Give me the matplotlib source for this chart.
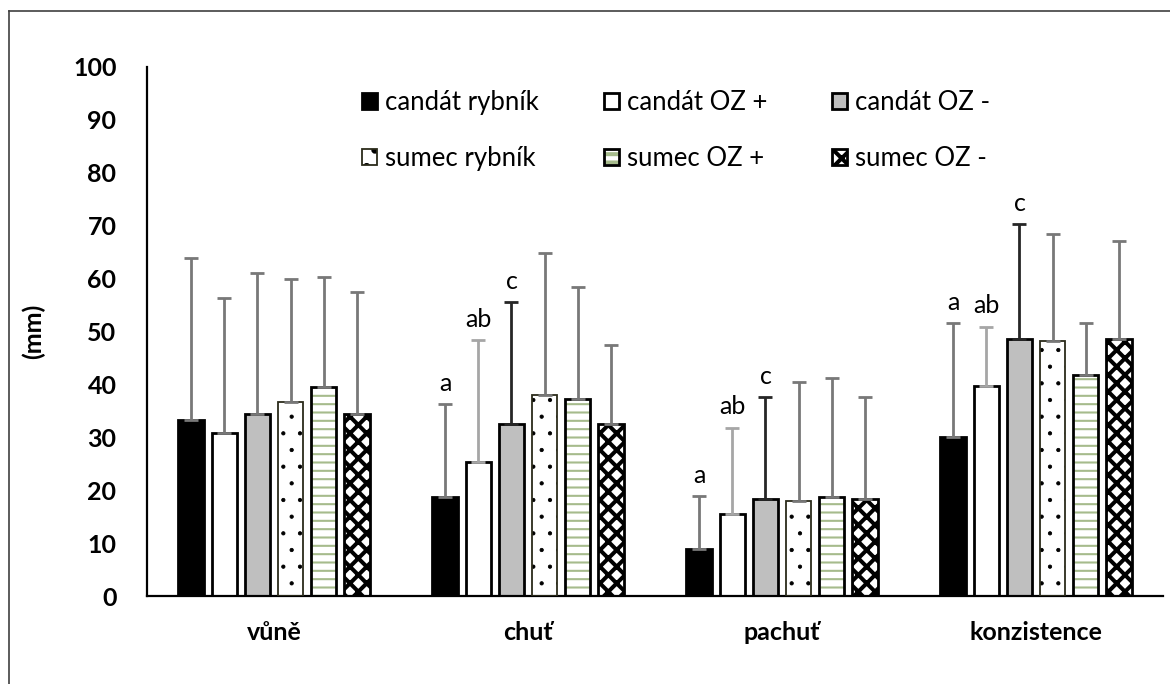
import numpy as np
import matplotlib
matplotlib.use('Agg')
import matplotlib.pyplot as plt
from matplotlib.lines import Line2D

plt.rcParams['font.family'] = ['Lato', 'DejaVu Sans']

# data
kategorie = ['vůně', 'chuť', 'pachuť', 'konzistence']
serie = ['candát rybník', 'candát OZ +', 'candát OZ -',
         'sumec rybník', 'sumec OZ +', 'sumec OZ -']

candat_rybnik = [33.3, 18.7, 8.9, 30.1]
candat_oz_plus = [30.8, 25.3, 15.5, 39.7]
candat_oz_minus = [34.4, 32.5, 18.3, 48.6]
sumec_rybnik = [36.7, 38.0, 18.0, 48.2]
sumec_oz_plus = [39.5, 37.2, 18.7, 41.8]
sumec_oz_minus = [34.4, 32.5, 18.3, 48.6]

sd_candat_rybnik = [30.6, 17.6, 10.0, 21.5]
sd_candat_oz_plus = [25.5, 23.1, 16.3, 11.2]
sd_candat_oz_minus = [26.7, 23.1, 19.3, 21.7]
sd_sumec_rybnik = [23.2, 26.8, 22.5, 20.2]
sd_sumec_oz_plus = [20.8, 21.2, 22.6, 9.8]
sd_sumec_oz_minus = [23.1, 14.9, 19.3, 18.5]

# letters above the first three bars (chuť, pachuť, konzistence)
pismena = ['a', 'ab', 'c']

hodnoty = [candat_rybnik, candat_oz_plus, candat_oz_minus,
           sumec_rybnik, sumec_oz_plus, sumec_oz_minus]
sd = [sd_candat_rybnik, sd_candat_oz_plus, sd_candat_oz_minus,
      sd_sumec_rybnik, sd_sumec_oz_plus, sd_sumec_oz_minus]

# styl: (barva výplně, šrafování, barva šrafy, tloušťka šrafy, barva okraje, tloušťka okraje)
styly = [
    ('black', '', 'black', 1.0, 'black', 2.0),
    ('white', '', 'white', 1.0, 'black', 2.0),
    ('#bfbfbf', '', '#bfbfbf', 1.0, 'black', 2.0),
    ('white', '.', 'black', 0.6, '#2b2b1a', 1.3),
    ('white', '--', '#a6bb8c', 1.5, 'black', 2.0),
    ('white', 'xx', 'black', 2.9, 'black', 2.0),
]
# barvy chybových úseček po kategoriích
sede = '#787878'
err_barvy = [
    [sede, sede, sede, sede],
    [sede, '#a6a6a6', '#a6a6a6', '#a6a6a6'],
    [sede, '#262626', '#262626', '#262626'],
    [sede, sede, sede, sede],
    [sede, sede, sede, sede],
    [sede, sede, sede, sede],
]

fig = plt.figure(figsize=(11.7, 6.84), dpi=100)
ax = fig.add_axes([147/1170, 1 - 596/684, (1163 - 147)/1170, (596 - 67)/684])

x = np.arange(len(kategorie))
krok = 0.13
sirka = 0.102
handles = []
for i, (vals, chyby) in enumerate(zip(hodnoty, sd)):
    face, hatch, hcol, hlw, ecol, lw = styly[i]
    pos = x + (i - 2.5) * krok
    plt.rcParams['hatch.linewidth'] = hlw
    b1 = ax.bar(pos, vals, sirka, color=face, hatch=hatch, edgecolor=hcol,
                linewidth=0, zorder=2)
    b2 = ax.bar(pos, vals, sirka, fill=False, edgecolor=ecol, linewidth=lw,
                zorder=3)
    handles.append((b1[0], b2[0]))
    for j in range(len(kategorie)):
        ax.errorbar(pos[j], vals[j], yerr=[[0], [chyby[j]]], fmt='none',
                    ecolor=err_barvy[i][j], elinewidth=2, capsize=5,
                    capthick=2, zorder=4)
        if i < 3 and j > 0:
            ax.annotate(pismena[i], (pos[j], vals[j] + chyby[j]),
                        xytext=(0, 15), textcoords='offset points',
                        ha='center', va='center', fontsize=18)

ax.set_xlim(-0.5, 3.5)
ax.set_ylim(0, 100)
ax.set_yticks(range(0, 101, 10))
ax.set_xticks(x)
ax.set_xticklabels(kategorie, fontsize=18, fontweight='bold')
ax.tick_params(axis='y', labelsize=18, length=0, pad=22)
ax.tick_params(axis='x', length=0, pad=18)
for lab in ax.get_yticklabels():
    lab.set_fontweight('bold')
ax.set_ylabel('(mm)', fontsize=18, fontweight='bold', labelpad=20)
ax.spines['top'].set_visible(False)
ax.spines['right'].set_visible(False)
ax.spines['left'].set_linewidth(1.6)
ax.spines['bottom'].set_linewidth(1.6)

# legenda: řádky candát / sumec
poradi = [0, 3, 1, 4, 2, 5]
leg = ax.legend([handles[k] for k in poradi], [serie[k] for k in poradi],
                ncol=3, frameon=False, fontsize=18.5,
                loc='upper left', bbox_to_anchor=(0.2116, 0.956),
                borderpad=0, borderaxespad=0,
                handlelength=0.58, handleheight=0.58, handletextpad=0.3,
                columnspacing=2.55, labelspacing=1.2)

# rámeček grafu
fig.add_artist(Line2D([9/1170, 9/1170], [0, 1 - 11/684], color='#404040', lw=1.2))
fig.add_artist(Line2D([9/1170, 1], [1 - 11/684, 1 - 11/684], color='#404040', lw=1.2))

fig.savefig('out.png', dpi=100)
